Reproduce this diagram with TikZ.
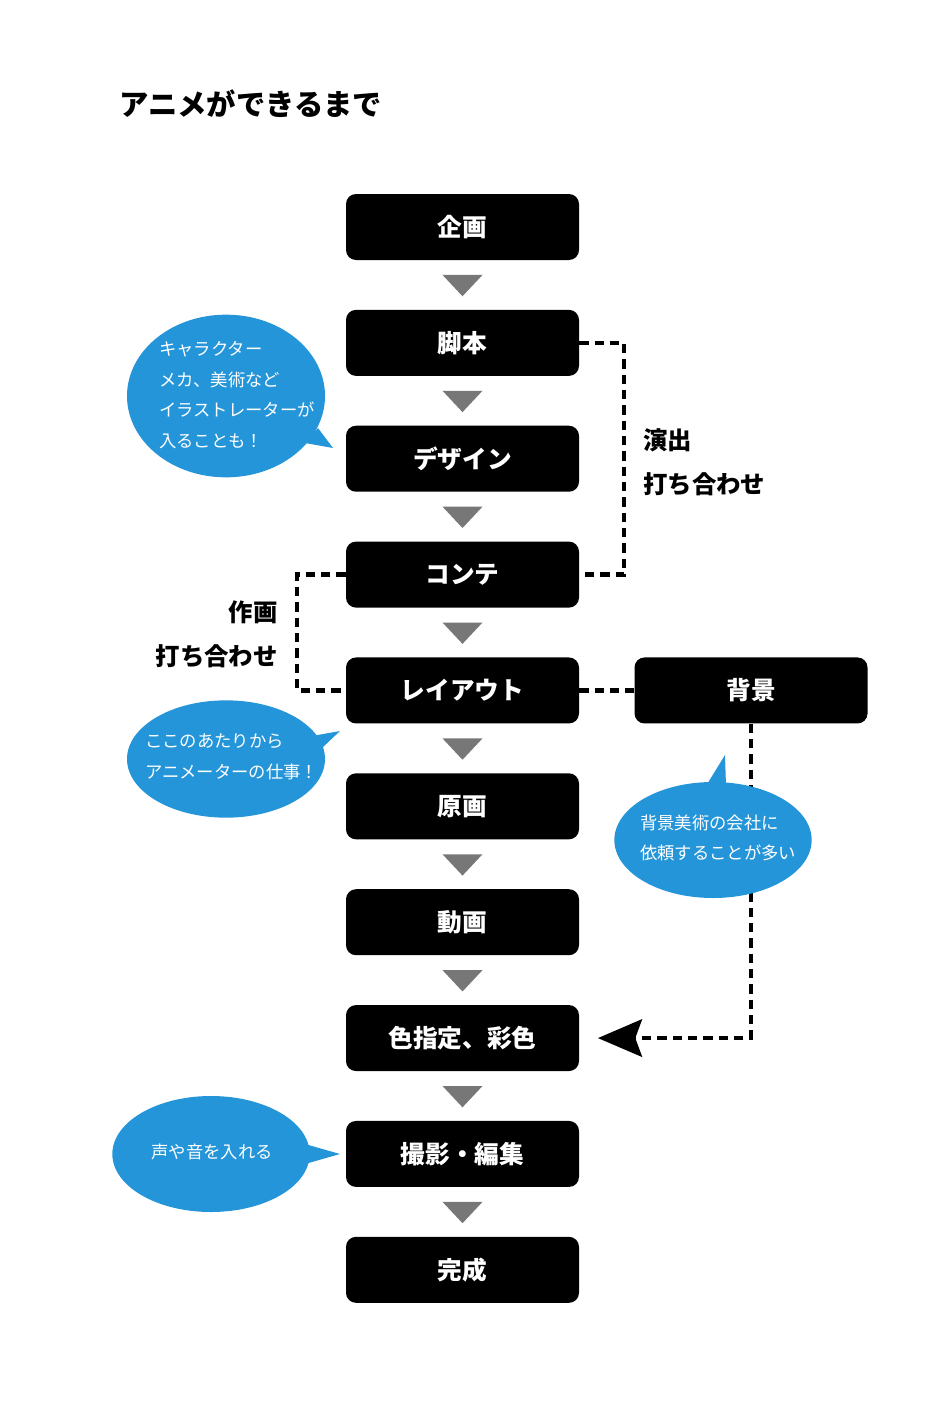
\documentclass[tikz,border=0pt]{standalone}
\usepackage{fontspec}
\setmainfont{Noto Sans CJK JP}
\usetikzlibrary{
  positioning,
  arrows.meta
}
\definecolor{bubble}{HTML}{2595D9}
\definecolor{stepgray}{HTML}{777777}
\tikzset{
  flowbox/.style={fill=black,rounded corners=7.5pt,text=white,inner sep=0pt,
    minimum width=174.75pt,minimum height=49.5pt,
    font=\fontsize{18.5pt}{22pt}\selectfont\bfseries},
  meetline/.style={line width=3.3pt,dash pattern=on 7pt off 4.5pt},
  notetext/.style={text=white,align=left,inner sep=0pt,
    font=\fontsize{13pt}{23pt}\selectfont},
  sidelabel/.style={inner sep=0pt,font=\fontsize{18.3pt}{33pt}\selectfont\bfseries},
}

\begin{document}
\begin{tikzpicture}[x=0.75pt,y=-0.75pt]
\useasboundingbox (0,0) rectangle (941,1417);
\node[anchor=west,inner sep=0pt,font=\fontsize{22pt}{26pt}\selectfont\bfseries]
  (title) at (119,104) {アニメができるまで};

% main flow
\node[flowbox] (kikaku) at (462.5,227) {企画};
\node[flowbox,below=37pt of kikaku] (kyakuhon) {脚本};
\node[flowbox,below=37pt of kyakuhon] (design) {デザイン};
\node[flowbox,below=37pt of design] (konte) {コンテ};
\node[flowbox,below=37pt of konte] (layout) {レイアウト};
\node[flowbox,below=37pt of layout] (genga) {原画};
\node[flowbox,below=37pt of genga] (douga) {動画};
\node[flowbox,below=37pt of douga] (shitei) {色指定、彩色};
\node[flowbox,below=37pt of shitei] (satsuei) {撮影・編集};
\node[flowbox,below=37pt of satsuei] (kansei) {完成};
\node[flowbox,right=41.25pt of layout] (haikei) {背景};

\foreach \a in {kikaku,kyakuhon,design,konte,layout,genga,douga,shitei,satsuei}
  \fill[stepgray] ([xshift=-15pt,yshift=-11pt]\a.south) --
    ([xshift=15pt,yshift=-11pt]\a.south) -- ([yshift=-27pt]\a.south) -- cycle;

% meetings
\draw[meetline] (kyakuhon.east) -- ++(45,0) |- (konte.east);
\node[sidelabel,anchor=west,align=left] (enshutsu) at (643,462) {演出\\打ち合わせ};
\draw[meetline] (konte.west) -- ++(-49,0) |- (layout.west);
\node[sidelabel,anchor=east,align=right] (sakuga) at (278,634) {作画\\打ち合わせ};
\draw[meetline] (layout.east) -- (haikei.west);
\draw[meetline,-{Stealth[length=33pt,width=28pt,inset=5pt]}]
  (haikei.south) |- ([xshift=14pt]shitei.east);

% notes
\fill[bubble] (226,396) ellipse[x radius=74.25pt,y radius=61pt];
\fill[bubble] (318,428) -- (333,448) -- (305,443) -- cycle;
\node[notetext,anchor=west] (note1) at (159,395)
  {キャラクター\\メカ、美術など\\イラストレーターが\\入ることも！};

\fill[bubble] (226,759) ellipse[x radius=74.25pt,y radius=44pt];
\fill[bubble] (312,736) -- (340,731) -- (322,748) -- cycle;
\node[notetext,anchor=west] (note2) at (145,757) {ここのあたりから\\アニメーターの仕事！};

\fill[bubble] (713,840) ellipse[x radius=74pt,y radius=43.5pt];
\fill[bubble] (706,786) -- (725,755) -- (726,786) -- cycle;
\node[notetext,anchor=west] (note3) at (640,838) {背景美術の会社に\\依頼することが多い};

\fill[bubble] (211,1154) ellipse[x radius=74pt,y radius=43.5pt];
\fill[bubble] (305,1144) -- (340,1154) -- (305,1164) -- cycle;
\node[notetext] (note4) at (212,1152) {声や音を入れる};
\end{tikzpicture}
\end{document}
